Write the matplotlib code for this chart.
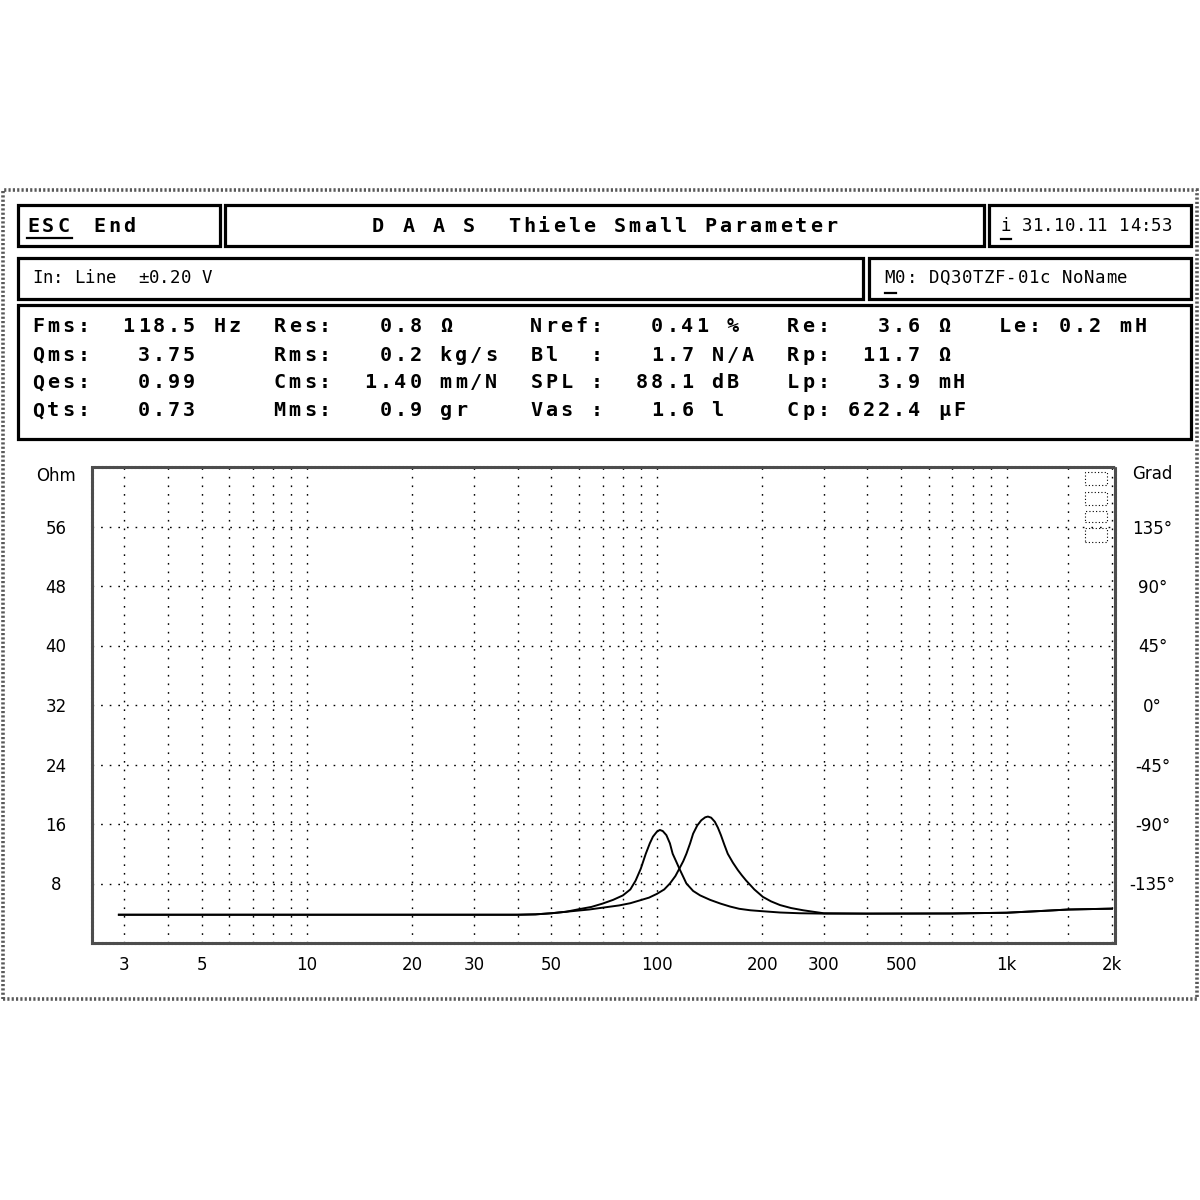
import numpy as np
import matplotlib
matplotlib.use("Agg")
from matplotlib import pyplot as plt
from matplotlib.patches import Rectangle

W = H = 1200

freq_a = [2.9, 10, 30, 40, 45, 50, 55, 60, 65, 70, 75, 80, 84, 87, 90, 93, 95.5, 97.5, 100, 102,
          104, 106.5, 109, 111, 113.5, 116, 119, 121.5, 127, 133, 142, 152, 162, 172, 185, 197,
          225, 256, 300, 400, 700, 1000, 1250, 1500, 2000]
ohm_a = [3.8, 3.8, 3.8, 3.8, 3.85, 4.0, 4.2, 4.55, 4.85, 5.3, 5.8, 6.4, 7.2, 8.4, 10.0, 12.0, 13.4,
         14.3, 14.95, 15.2, 15.05, 14.5, 13.4, 12.0, 11.0, 10.0, 8.9, 8.0, 7.0, 6.4, 5.8, 5.3, 4.9,
         4.6, 4.4, 4.3, 4.1, 4.0, 3.95, 3.95, 3.97, 4.07, 4.3, 4.5, 4.62]
freq_b = [2.9, 10, 30, 40, 45, 50, 55, 64, 70, 78, 84, 89, 95, 100, 105, 109, 113, 116, 119, 121.5,
          124.5, 127, 130.5, 134, 137.5, 140, 143, 146.5, 149.5, 152.5, 156, 159.5, 165, 170.5, 175,
          180, 190, 201, 212, 225, 242, 262, 280, 300, 400, 700, 1000, 1250, 1500, 2000]
ohm_b = [3.8, 3.8, 3.8, 3.8, 3.85, 4.0, 4.2, 4.5, 4.75, 5.05, 5.35, 5.7, 6.1, 6.6, 7.2, 8.0, 9.0,
         10.0, 11.0, 12.0, 13.4, 14.7, 15.8, 16.5, 16.9, 17.0, 16.85, 16.3, 15.5, 14.5, 13.2, 12.0,
         10.8, 9.8, 9.1, 8.4, 7.2, 6.2, 5.6, 5.1, 4.7, 4.4, 4.2, 4.0, 3.95, 3.97, 4.07, 4.3, 4.5, 4.62]

x_ticks = [3, 5, 10, 20, 30, 50, 100, 200, 300, 500, 1000, 2000]
x_labels = ["3", "5", "10", "20", "30", "50", "100", "200", "300", "500", "1k", "2k"]
grid_freqs = [3, 4, 5, 6, 7, 8, 9, 10, 20, 30, 40, 50, 60, 70, 80, 90,
              100, 200, 300, 400, 500, 600, 700, 800, 900, 1000, 1500]
ohm_ticks = [8, 16, 24, 32, 40, 48, 56]
grad_ticks = [-135, -90, -45, 0, 45, 90, 135]
grad_labels = ["-135°", "-90°", "-45°", "0°", "45°", "90°", "135°"]

# Thiele Small parameters
names_1 = ["Fms:", "Qms:", "Qes:", "Qts:"]
vals_1 = ["118.5", "3.75", "0.99", "0.73"]
units_1 = ["Hz", "", "", ""]
names_2 = ["Res:", "Rms:", "Cms:", "Mms:"]
vals_2 = ["0.8", "0.2", "1.40", "0.9"]
units_2 = ["Ω", "kg/s", "mm/N", "gr"]
names_3 = ["Nref:", "Bl  :", "SPL :", "Vas :"]
vals_3 = ["0.41", "1.7", "88.1", "1.6"]
units_3 = ["%", "N/A", "dB", "l"]
names_4 = ["Re:", "Rp:", "Lp:", "Cp:"]
vals_4 = ["3.6", "11.7", "3.9", "622.4"]
units_4 = ["Ω", "Ω", "mH", "μF"]
names_5 = ["Le:"]
vals_5 = ["0.2"]
units_5 = ["mH"]

title = "D A A S  Thiele Small Parameter"
input_text = "In: Line  ±0.20 V"
model_text = "M0: DQ30TZF-01c NoName"
date_text = "i 31.10.11 14:53"


def fx(x):
    return x / W


def fy(y):
    return 1 - y / H


def box(fig, x0, y0, x1, y1, **kw):
    fig.patches.append(Rectangle((fx(x0), fy(y1)), fx(x1 - x0), (y1 - y0) / H,
                                 transform=fig.transFigure, fill=False, **kw))


def mono(fig, x, y, s, pitch, **kw):
    # fixed pitch text like the old DOS screen font
    for i, ch in enumerate(s):
        if ch != " ":
            fig.text(fx(x + i * pitch + pitch * 0.4), fy(y), ch, ha="center", va="center", **kw)


def underline(fig, x0, x1, y):
    fig.add_artist(plt.Line2D([fx(x0), fx(x1)], [fy(y), fy(y)], color="black", lw=1.6,
                              transform=fig.transFigure))


fig = plt.figure(figsize=(12, 12), dpi=100)
fig.patch.set_facecolor("white")

# screen frame
box(fig, 3, 190, 1197, 999, lw=2.6, ls=(0, (0.6, 0.6)), edgecolor="0.35")

# header boxes
box_style = dict(lw=2.3, edgecolor="black")
box(fig, 18, 205, 220, 246, **box_style)
box(fig, 225, 205, 984, 246, **box_style)
box(fig, 989, 205, 1191, 246, **box_style)
box(fig, 18, 258, 863, 299, **box_style)
box(fig, 869, 258, 1191, 299, **box_style)
box(fig, 18, 305, 1191, 439, **box_style)

bold = dict(family="DejaVu Sans Mono", weight="bold", fontsize=14.5, color="black")
thin = dict(family="DejaVu Sans Mono", fontsize=12.5, color="black")

mono(fig, 27, 226, "ESC", 15.1, **bold)
underline(fig, 27, 72, 238)
mono(fig, 93, 226, "End", 15.1, **bold)
mono(fig, 372, 227, title, 15.1, **bold)
mono(fig, 1001, 226, date_text, 10.8, **thin)
underline(fig, 1001, 1011, 239)
mono(fig, 33, 278, input_text, 10.6, **thin)
mono(fig, 885, 278, model_text, 11.1, **thin)
underline(fig, 885, 896, 293)

# parameter table, laid out on a character grid
groups = [(names_1, vals_1, units_1, 0, 10, "right"),
          (names_2, vals_2, units_2, 16, 25, "right"),
          (names_3, vals_3, units_3, 33, 42, "dec"),
          (names_4, vals_4, units_4, 50, 58, "right"),
          (names_5, vals_5, units_5, 64, 70, "right")]
row_y = [327, 355, 383, 411]
for r, y in enumerate(row_y):
    row = [" "] * 76
    for names, vals, units, lcol, acol, mode in groups:
        if r >= len(names):
            continue
        for i, ch in enumerate(names[r]):
            row[lcol + i] = ch
        v = vals[r]
        start = acol - len(v) + 1 if mode == "right" else acol - v.index(".")
        for i, ch in enumerate(v):
            row[start + i] = ch
        for i, ch in enumerate(units[r]):
            row[start + len(v) + 1 + i] = ch
    mono(fig, 32, y, "".join(row), 15.1, **bold)

# impedance plot
ax = fig.add_axes([fx(92), fy(943), fx(1115 - 92), (943 - 467) / H])
ax.plot(freq_a, ohm_a, color="black", lw=1.4)
ax.plot(freq_b, ohm_b, color="black", lw=1.4)
ax.set_xscale("log")
ax.set_xlim(2.43, 2040)
ax.set_ylim(0, 64)

ax.set_xticks(x_ticks)
ax.set_xticklabels(x_labels)
ax.xaxis.set_minor_locator(matplotlib.ticker.FixedLocator(grid_freqs))
ax.xaxis.set_minor_formatter(matplotlib.ticker.NullFormatter())
ax.set_yticks(ohm_ticks)
ax.set_yticklabels([str(t) for t in ohm_ticks])
ax.tick_params(axis="x", which="both", length=0, pad=9, labelsize=12)
ax.tick_params(axis="y", length=0, pad=26, labelsize=12)
for lbl in ax.get_yticklabels():
    lbl.set_ha("center")

grid_style = dict(color="black", lw=1.0, ls=(0, (1.2, 5)))
ax.grid(which="both", axis="x", **grid_style)
ax.grid(which="major", axis="y", **grid_style)
for sp in ax.spines.values():
    sp.set_linestyle((0, (0.6, 0.6)))
    sp.set_linewidth(2.2)
    sp.set_color("0.3")

ax2 = ax.twinx()
ax2.set_ylim(-180, 180)
ax2.set_yticks(grad_ticks)
ax2.set_yticklabels(grad_labels)
ax2.tick_params(axis="y", length=0, pad=27, labelsize=12)
for lbl in ax2.get_yticklabels():
    lbl.set_ha("center")
for sp in ax2.spines.values():
    sp.set_visible(False)

fig.text(fx(56), fy(476), "Ohm", ha="center", va="center", fontsize=12)
fig.text(fx(1152), fy(474), "Grad", ha="center", va="center", fontsize=12)

# little dotted marker icon in the top right corner of the plot
for y0, y1 in [(472, 485), (492, 505), (511, 522), (528, 542)]:
    box(fig, 1085, y0, 1107, y1, lw=0.8, ls=(0, (1, 2)), edgecolor="black")

plt.savefig("out.png", dpi=100, facecolor="white")
